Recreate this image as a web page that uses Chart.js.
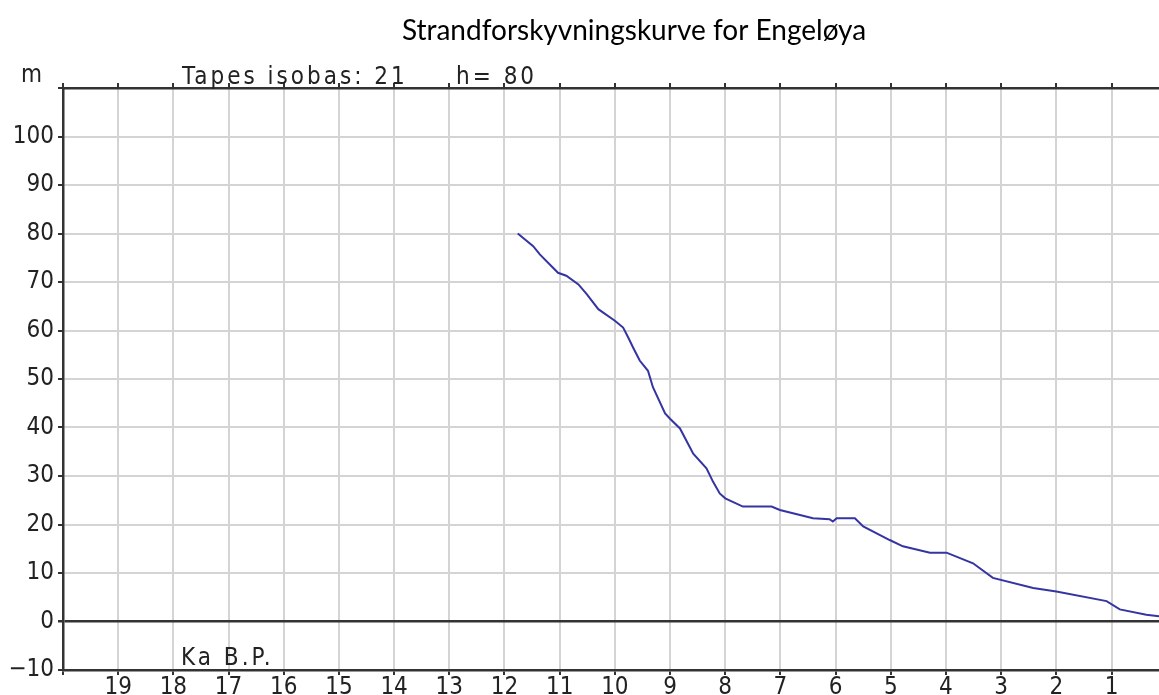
<!DOCTYPE html>
<html>
<head>
<meta charset="utf-8">
<script src="https://cdn.jsdelivr.net/npm/chart.js@4/dist/chart.umd.min.js"></script>
<style>
  html, body { margin: 0; padding: 0; background: #fff; overflow: hidden; }
</style>
</head>
<body>
<canvas id="chart" width="1159" height="695"></canvas>
<script>
// shoreline displacement curve, age in ka BP vs level in m
const ageKa = [11.76, 11.48, 11.36, 11.03, 10.88, 10.66, 10.51, 10.30, 10.00, 9.85,
               9.76, 9.67, 9.55, 9.40, 9.31, 9.09, 9.00, 8.82, 8.58, 8.34,
               8.22, 8.10, 8.00, 7.68, 7.16, 7.01, 6.41, 6.11, 6.05, 5.98,
               5.65, 5.50, 5.02, 4.78, 4.29, 3.99, 3.51, 3.15, 2.42, 2.00,
               1.09, 0.85, 0.37, 0.14, 0.00];
const levelM = [80.0, 77.4, 75.7, 71.9, 71.3, 69.5, 67.5, 64.4, 62.0, 60.6,
                58.6, 56.5, 53.8, 51.7, 48.3, 42.9, 41.8, 39.8, 34.6, 31.6,
                28.8, 26.4, 25.4, 23.7, 23.7, 23.0, 21.3, 21.1, 20.6, 21.3,
                21.3, 19.6, 16.8, 15.5, 14.2, 14.2, 12.0, 9.0, 6.9, 6.2,
                4.2, 2.5, 1.4, 1.1, 0.8];
const xTicks = [20, 19, 18, 17, 16, 15, 14, 13, 12, 11, 10, 9, 8, 7, 6, 5, 4, 3, 2, 1];
const yTicks = [-10, 0, 10, 20, 30, 40, 50, 60, 70, 80, 90, 100, 110];

const pixFont = "'DejaVu Sans Condensed', 'Liberation Sans Narrow', 'DejaVu Sans', sans-serif";
const dark = '#333333';
const gridGrey = '#d4d4d4';

const texts = {
    id: 'texts',
    afterDraw(chart) {
        const ctx = chart.ctx;
        ctx.save();
        ctx.fillStyle = '#000';
        ctx.textBaseline = 'alphabetic';
        ctx.textAlign = 'center';
        ctx.font = "28px Lato, 'Open Sans', sans-serif";
        ctx.fillText('Strandforskyvningskurve for Engeløya', 634, 40);

        ctx.fillStyle = '#222';
        ctx.textAlign = 'left';
        ctx.font = '24px ' + pixFont;
        ctx.letterSpacing = '3px';
        ctx.fillText('Tapes isobas: 21', 182, 84);
        ctx.fillText('h= 80', 456, 84);
        ctx.fillText('Ka B.P.', 181, 665);
        ctx.letterSpacing = '0px';
        ctx.fillText('m', 21, 82);
        ctx.restore();
    }
};

new Chart(document.getElementById('chart'), {
    type: 'line',
    data: {
        datasets: [{
            data: ageKa.map((a, i) => ({ x: a, y: levelM[i] })),
            borderColor: '#3434a2',
            borderWidth: 2,
            pointRadius: 0,
            tension: 0,
            fill: false
        }]
    },
    options: {
        responsive: false,
        animation: false,
        layout: { padding: { top: 83, left: 0, right: 0, bottom: 0 } },
        plugins: { legend: { display: false }, tooltip: { enabled: false } },
        scales: {
            x: {
                type: 'linear', position: 'bottom', reverse: true, min: 0.14, max: 20,
                afterBuildTicks: s => { s.ticks = xTicks.map(v => ({ value: v })); },
                afterFit: s => { s.height = 25; },
                ticks: {
                    callback: v => v === 20 ? '' : String(v),
                    color: '#222', font: { family: pixFont, size: 24 },
                    padding: -2, maxRotation: 0, autoSkip: false
                },
                grid: { color: gridGrey, lineWidth: 2, tickLength: 5, tickColor: dark },
                border: { color: dark, width: 2.5 }
            },
            x2: {
                type: 'linear', position: 'top', reverse: true, min: 0.14, max: 20,
                afterBuildTicks: s => { s.ticks = xTicks.map(v => ({ value: v })); },
                afterFit: s => { s.height = 5; },
                ticks: { display: false },
                grid: { drawOnChartArea: false, tickLength: 5, tickColor: dark, lineWidth: 2 },
                border: { color: dark, width: 2.5 }
            },
            y: {
                min: -10, max: 110,
                afterBuildTicks: s => { s.ticks = yTicks.map(v => ({ value: v })); },
                afterFit: s => { s.width = 63; },
                ticks: {
                    callback: v => v === 110 ? '' : (v < 0 ? '\u2212' + Math.abs(v) : String(v)),
                    color: '#222', font: { family: pixFont, size: 24 },
                    padding: 4
                },
                grid: {
                    color: c => c.tick && c.tick.value === 0 ? dark : gridGrey,
                    lineWidth: c => c.tick && c.tick.value === 0 ? 2.5 : 2,
                    tickLength: 5, tickColor: dark
                },
                border: { color: dark, width: 2.5 }
            }
        }
    },
    plugins: [texts]
});
</script>
</body>
</html>
